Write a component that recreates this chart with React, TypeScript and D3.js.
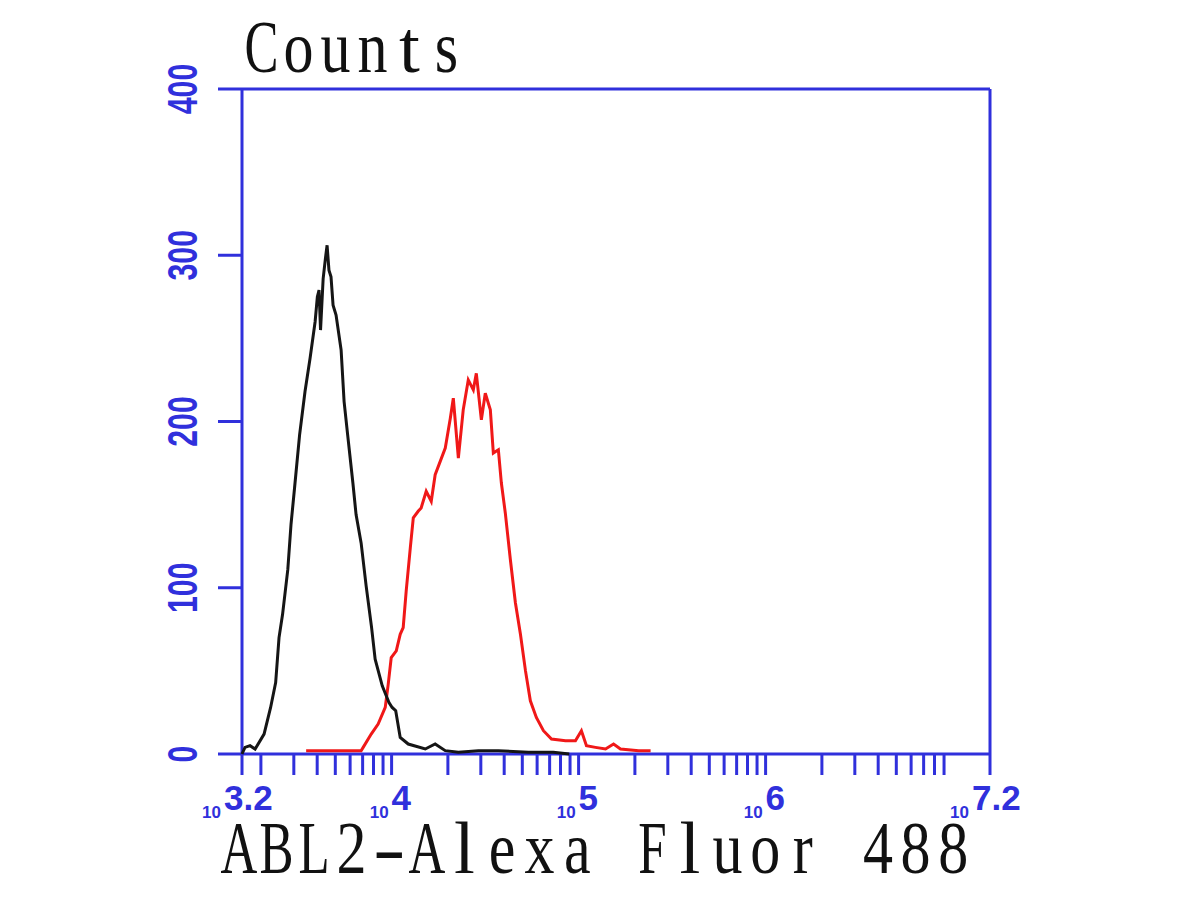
import React, { useEffect, useRef } from 'react'
import * as d3 from 'd3'

// histogram traces, x in log10 units, y in counts
const blackLog = [3.2, 3.216, 3.243, 3.27, 3.318, 3.353, 3.38, 3.398, 3.417, 3.445, 3.462, 3.481, 3.508, 3.537, 3.564, 3.591, 3.603, 3.612, 3.62, 3.634, 3.646, 3.655, 3.665, 3.676, 3.687, 3.703, 3.73, 3.746, 3.765, 3.793, 3.81, 3.837, 3.864, 3.893, 3.912, 3.95, 3.986, 4.003, 4.022, 4.046, 4.089, 4.18, 4.233, 4.287, 4.357, 4.464, 4.571, 4.731, 4.865, 4.95]
const blackCount = [0, 4, 5, 3, 12, 28, 43, 70, 84, 111, 138, 160, 192, 218, 238, 260, 275, 279, 255, 286, 298, 306, 291, 287, 270, 264, 243, 212, 192, 163, 144, 127, 101, 76, 57, 41, 31, 28, 26, 10, 6, 3, 6, 2, 1, 2, 2, 1, 1, 0]

const redLog = [3.543, 3.837, 3.848, 3.891, 3.928, 3.966, 3.982, 3.998, 4.025, 4.046, 4.062, 4.078, 4.1, 4.116, 4.142, 4.158, 4.185, 4.212, 4.233, 4.26, 4.287, 4.314, 4.33, 4.357, 4.383, 4.41, 4.437, 4.453, 4.48, 4.501, 4.528, 4.544, 4.571, 4.587, 4.608, 4.635, 4.662, 4.689, 4.716, 4.742, 4.774, 4.812, 4.855, 4.93, 4.983, 5.015, 5.042, 5.09, 5.144, 5.187, 5.224, 5.321, 5.385]
const redCount = [2, 2, 4, 12, 18, 28, 42, 58, 62, 72, 76, 98, 124, 142, 146, 148, 158, 152, 168, 176, 184, 202, 214, 178, 207, 225, 219, 229, 201, 217, 207, 181, 183, 163, 145, 117, 91, 72, 50, 32, 22, 14, 9, 8, 8, 14, 5, 4, 3, 6, 3, 2, 2]

const yTicks = [0, 100, 200, 300, 400]
const xLabelPos = [3.2, 4, 5, 6, 7.2]
const xLabelExp = ['3.2', '4', '5', '6', '7.2']
const xDecades = [3, 4, 5, 6]
const yTitle = 'Counts'
const xTitle = 'ABL2-Alexa Fluor 488'

// horizontal squeeze per glyph so the serif face sits in fixed-width cells
const glyphScale = (ch: string) => {
  if (ch === '-') return 1.3
  if (ch === 'l' || ch === 't') return 1.0
  if (/[A-Z]/.test(ch)) return 0.68
  return 0.8
}

const App = () => {
  const chartRef = useRef<HTMLDivElement>(null)

  useEffect(() => {
    if (!chartRef.current) return
    d3.select(chartRef.current).selectAll('*').remove()

    const width = 1200
    const height = 900
    const left = 242, right = 990, top = 89, bottom = 754
    const blue = '#3030dc'

    const svg = d3.select(chartRef.current)
        .append('svg')
        .attr('width', width)
        .attr('height', height)
        .style('position', 'absolute')
        .style('left', 0)
        .style('top', 0)
        .style('background', '#fff')

    const x = d3.scaleLinear().domain([3.2, 7.2]).range([left, right])
    const y = d3.scaleLinear().domain([0, 400]).range([bottom, top])

    // minor log ticks
    const ticks: number[] = []
    xDecades.forEach(d => {
      for (let k = 1; k <= 9; k++) {
        const v = d + Math.log10(k)
        if (v > 3.2 + 1e-6 && v <= 7 + 1e-6) ticks.push(v)
      }
    })
    svg.selectAll('.xtick')
        .data(ticks)
        .enter()
        .append('line')
        .attr('x1', d => x(d))
        .attr('x2', d => x(d))
        .attr('y1', bottom)
        .attr('y2', bottom + 21)
        .attr('stroke', blue)
        .attr('stroke-width', 3)

    // y ticks and the box
    svg.selectAll('.ytick')
        .data(yTicks)
        .enter()
        .append('line')
        .attr('x1', left - 24)
        .attr('x2', d => (d === 0 || d === 400) ? right : left)
        .attr('y1', d => y(d))
        .attr('y2', d => y(d))
        .attr('stroke', blue)
        .attr('stroke-width', 3)

    ;[left, right].forEach(px => {
      svg.append('line')
          .attr('x1', px).attr('x2', px)
          .attr('y1', top).attr('y2', bottom + 21)
          .attr('stroke', blue)
          .attr('stroke-width', 3)
    })

    // y labels, rotated
    svg.selectAll('.ylabel')
        .data(yTicks)
        .enter()
        .append('text')
        .attr('transform', d => `translate(197,${y(d)}) rotate(-90) scale(0.72,1)`)
        .attr('text-anchor', 'middle')
        .style('font-family', 'Liberation Sans, Arial, sans-serif')
        .style('font-weight', 'bold')
        .style('font-size', '42px')
        .style('fill', blue)
        .text(d => d)

    // x labels: small "10" then the exponent
    xLabelPos.forEach((v, i) => {
      const exp = xLabelExp[i]
      const x0 = x(v) + (exp.includes('.') ? -18 : 0)
      svg.append('text')
          .attr('x', x0 - 3)
          .attr('y', 818)
          .attr('text-anchor', 'end')
          .style('font-family', 'Liberation Sans, Arial, sans-serif')
          .style('font-weight', 'bold')
          .style('font-size', '17px')
          .style('fill', blue)
          .text('10')
      svg.append('text')
          .attr('x', x0)
          .attr('y', 810)
          .style('font-family', 'Liberation Sans, Arial, sans-serif')
          .style('font-weight', 'bold')
          .style('font-size', '35px')
          .style('fill', blue)
          .text(exp)
    })

    // traces
    const redPts = redLog.map((v, i) => [v, redCount[i]] as [number, number])
    const blackPts = blackLog.map((v, i) => [v, blackCount[i]] as [number, number])
    const path = d3.line<[number, number]>().x(d => x(d[0])).y(d => y(d[1]))

    svg.append('path')
        .attr('d', path(redPts))
        .attr('fill', 'none')
        .attr('stroke', '#f01818')
        .attr('stroke-width', 3)
    svg.append('path')
        .attr('d', path(blackPts))
        .attr('fill', 'none')
        .attr('stroke', '#151515')
        .attr('stroke-width', 3)

    // monospace-like titles
    const mono = (str: string, x0: number, pitch: number, base: number) => {
      str.split('').forEach((ch, i) => {
        if (ch === ' ') return
        svg.append('text')
            .attr('transform', `translate(${x0 + (i + 0.5) * pitch},${base}) scale(${glyphScale(ch)},1)`)
            .attr('text-anchor', 'middle')
            .style('font-family', 'Liberation Serif, serif')
            .style('font-size', '75px')
            .style('fill', '#111')
            .text(ch)
      })
    }
    mono(yTitle, 243, 37, 72)
    mono(xTitle, 220, 37.6, 873)
  }, [])

  return <div ref={chartRef} />
}

export default App
